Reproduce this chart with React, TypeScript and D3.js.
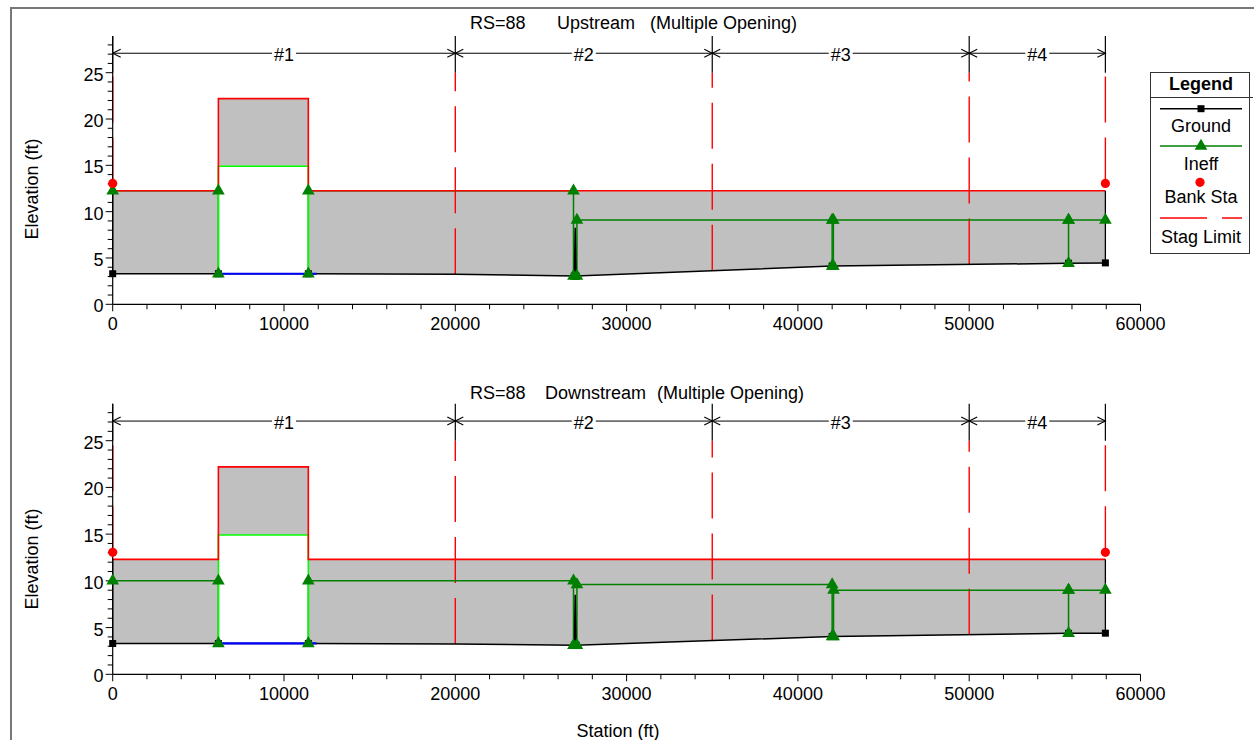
import React from 'react';
import * as d3 from 'd3';

type Pt = [number, number];

const FONT = "'Liberation Sans', Arial, Helvetica, sans-serif";

const xTicks = [0, 10000, 20000, 30000, 40000, 50000, 60000];
const yTicks = [0, 5, 10, 15, 20, 25];
const segmentBounds = [0, 20000, 35000, 50000, 57950];
const segmentLabels = ['#1', '#2', '#3', '#4'];
const bankStations = [0, 57950];
const bankElevation = 13.05;
const stagLimitStations = [0, 20000, 35000, 50000, 57950];
const stagLimitTop = 25;
const bridgeLeft = 6170;
const bridgeRight = 11420;
const lowChord = 14.9;
const deckTop = 22.2;
const blueStations = [6170, 11900];
const groundMarked = [0, 6170, 11420, 26950, 27050, 42000, 55800, 57950];

const upGround: Pt[] = [
  [0, 3.3], [6170, 3.3], [11420, 3.3], [20000, 3.25], [26950, 3.05],
  [27000, 8.25], [27050, 3.05], [42000, 4.13], [55800, 4.43], [57950, 4.47],
];
const downGround: Pt[] = [
  [0, 3.3], [6170, 3.3], [11420, 3.3], [20000, 3.25], [26950, 3.1],
  [27000, 8.5], [27050, 3.1], [42000, 4.05], [55800, 4.38], [57950, 4.4],
];
const upRoad = 12.25;
const downRoad = 12.3;

const upIneff: Pt[][] = [
  [[0, 12.25], [6170, 12.25], [6170, 3.3]],
  [[11420, 3.3], [11420, 12.25], [26900, 12.25], [26900, 3.05]],
  [[27100, 3.05], [27100, 9.1], [42000, 9.1], [42000, 4.13]],
  [[42070, 4.13], [42070, 9.1], [55800, 9.1], [55800, 4.43]],
  [[55800, 9.1], [57950, 9.1]],
];
const downIneff: Pt[][] = [
  [[0, 10.0], [6170, 10.0], [6170, 3.3]],
  [[11420, 3.3], [11420, 10.0], [26900, 10.0], [26900, 3.1]],
  [[27100, 3.1], [27100, 9.6], [42000, 9.6], [42000, 4.05]],
  [[42080, 4.05], [42080, 9.0], [55800, 9.0], [55800, 4.38]],
  [[55800, 9.0], [57950, 9.0]],
];

const triPath = d3.symbol(d3.symbolTriangle, 70)() as string;

interface PanelProps {
  y0px: number;
  y25px: number;
  title: { t: string; x: number }[];
  titleY: number;
  ground: Pt[];
  road: number;
  ineff: Pt[][];
  labelY: number;
  showXTitle: boolean;
}

function Panel({ y0px, y25px, title, titleY, ground, road, ineff, labelY, showXTitle }: PanelProps) {
  const x = d3.scaleLinear().domain([0, 60000]).range([112.7, 1140.5]);
  const y = d3.scaleLinear().domain([0, 25]).range([y0px, y25px]);
  const line = d3.line<Pt>().x((d) => x(d[0])).y((d) => y(d[1]));
  const closed = d3.line<Pt>().x((d) => x(d[0])).y((d) => y(d[1])).curve(d3.curveLinearClosed);
  const gAt = (s: number) => {
    for (let i = 0; i < ground.length - 1; i++) {
      const [a, ea] = ground[i];
      const [b, eb] = ground[i + 1];
      if (s >= a && s <= b) return b === a ? ea : ea + ((eb - ea) * (s - a)) / (b - a);
    }
    return ground[ground.length - 1][1];
  };
  const endS = ground[ground.length - 1][0];
  const fillPoly = (a: number, b: number, top: number): Pt[] => [
    [a, top],
    [b, top],
    [b, gAt(b)],
    ...ground.filter((p) => p[0] > a && p[0] < b).slice().reverse(),
    [a, gAt(a)],
  ];
  const axisTop = 28.95;
  const arrowElev = 27.1;
  const ay = y(arrowElev);
  const minorX = x.ticks(30);
  const minorY = d3.range(0, 29, 1);

  const triangles: Pt[] = [];
  ineff.forEach((seg) => seg.forEach((p) => triangles.push(p)));

  return (
    <g>
      {/* gray fill */}
      <path d={closed(fillPoly(0, bridgeLeft, road)) || ''} fill="#c0c0c0" stroke="none" />
      <path
        d={
          closed([
            [bridgeLeft, lowChord],
            [bridgeRight, lowChord],
            [bridgeRight, deckTop],
            [bridgeLeft, deckTop],
          ]) || ''
        }
        fill="#c0c0c0"
        stroke="none"
      />
      <path d={closed(fillPoly(bridgeRight, endS, road)) || ''} fill="#c0c0c0" stroke="none" />
      {/* stagnation limits */}
      {stagLimitStations.map((s) => {
        const base = bankStations.includes(s) ? bankElevation : gAt(s);
        return (
          <line
            key={'st' + s}
            x1={x(s)}
            x2={x(s)}
            y1={y(base)}
            y2={y(stagLimitTop)}
            stroke="#ff0000"
            strokeWidth={1.4}
            strokeDasharray="46 15"
          />
        );
      })}
      {/* ineffective flow lines */}
      {ineff.map((seg, i) => (
        <path key={'in' + i} d={line(seg) || ''} fill="none" stroke="#008000" strokeWidth={1.5} />
      ))}
      {/* low chord / opening */}
      <path
        d={
          line([
            [bridgeLeft, gAt(bridgeLeft)],
            [bridgeLeft, lowChord],
            [bridgeRight, lowChord],
            [bridgeRight, gAt(bridgeRight)],
          ]) || ''
        }
        fill="none"
        stroke="#00ff00"
        strokeWidth={1.6}
      />
      {/* road / deck outline */}
      <path
        d={
          line([
            [0, road],
            [bridgeLeft, road],
            [bridgeLeft, deckTop],
            [bridgeRight, deckTop],
            [bridgeRight, road],
            [endS, road],
          ]) || ''
        }
        fill="none"
        stroke="#ff0000"
        strokeWidth={1.6}
      />
      {/* ground */}
      <path d={line(ground) || ''} fill="none" stroke="#000" strokeWidth={1.5} />
      <line x1={x(endS)} x2={x(endS)} y1={y(gAt(endS))} y2={y(road)} stroke="#000" strokeWidth={1.3} />
      <line x1={x(0)} x2={x(0)} y1={y(gAt(0))} y2={y(road)} stroke="#000" strokeWidth={1.3} />
      {/* blue */}
      <line
        x1={x(blueStations[0])}
        x2={x(blueStations[1])}
        y1={y(gAt(blueStations[0]))}
        y2={y(gAt(blueStations[0]))}
        stroke="#0000ff"
        strokeWidth={2.2}
      />
      {/* axes */}
      <line x1={x(0)} x2={x(0)} y1={y(0)} y2={y(axisTop)} stroke="#000" strokeWidth={1.2} />
      <line x1={x(0)} x2={x(60000)} y1={y(0)} y2={y(0)} stroke="#000" strokeWidth={1.2} />
      {minorX.map((t) => (
        <line key={'mx' + t} x1={x(t)} x2={x(t)} y1={y(0)} y2={y(0) + (xTicks.includes(t) ? 7 : 5)} stroke="#000" strokeWidth={1} />
      ))}
      {minorY.map((t) => (
        <line key={'my' + t} x1={x(0) - (yTicks.includes(t) ? 7 : 5)} x2={x(0)} y1={y(t)} y2={y(t)} stroke="#000" strokeWidth={1} />
      ))}
      {xTicks.map((t) => (
        <text key={'xl' + t} x={x(t)} y={y(0) + 25.5} textAnchor="middle" fontFamily={FONT} fontSize={18} fill="#000">
          {t}
        </text>
      ))}
      {yTicks.map((t) => (
        <text key={'yl' + t} x={103.5} y={y(t) + 8} textAnchor="end" fontFamily={FONT} fontSize={18} fill="#000">
          {t}
        </text>
      ))}
      <text
        transform={`translate(37.5, ${labelY}) rotate(-90)`}
        textAnchor="middle"
        fontFamily={FONT}
        fontSize={18}
        fill="#000"
      >
        Elevation (ft)
      </text>
      {showXTitle && (
        <text x={618} y={737} textAnchor="middle" fontFamily={FONT} fontSize={18} fill="#000">
          Station (ft)
        </text>
      )}
      {/* title */}
      <text y={titleY} fontFamily={FONT} fontSize={18} fill="#000">
        {title.map((p, i) => (
          <tspan key={i} x={p.x}>
            {p.t}
          </tspan>
        ))}
      </text>
      {/* segment dimension markers */}
      {segmentBounds.map((s) => (
        <line key={'sb' + s} x1={x(s)} x2={x(s)} y1={y(axisTop)} y2={y(stagLimitTop)} stroke="#000" strokeWidth={1.2} />
      ))}
      <line x1={x(segmentBounds[0])} x2={x(segmentBounds[segmentBounds.length - 1])} y1={ay} y2={ay} stroke="#000" strokeWidth={1} />
      {segmentLabels.map((lab, i) => {
        const a = x(segmentBounds[i]);
        const b = x(segmentBounds[i + 1]);
        const c = (a + b) / 2;
        return (
          <g key={'sg' + i}>
            <path d={`M${a + 8},${ay - 4}L${a},${ay}L${a + 8},${ay + 4}`} fill="none" stroke="#000" strokeWidth={1.1} />
            <path d={`M${b - 8},${ay - 4}L${b},${ay}L${b - 8},${ay + 4}`} fill="none" stroke="#000" strokeWidth={1.1} />
            <rect x={c - 12} y={ay - 6} width={24} height={13} fill="#fff" />
            <text x={c} y={ay + 8} textAnchor="middle" fontFamily={FONT} fontSize={18} fill="#000">
              {lab}
            </text>
          </g>
        );
      })}
      {/* markers */}
      {ground
        .filter((p) => groundMarked.includes(p[0]))
        .map((p) => (
          <rect key={'gm' + p[0]} x={x(p[0]) - 3.5} y={y(p[1]) - 3.5} width={7} height={7} fill="#000" />
        ))}
      {triangles.map((p, i) => (
        <path key={'tr' + i} d={triPath} transform={`translate(${x(p[0])},${y(p[1])})`} fill="#008000" />
      ))}
      {bankStations.map((s) => (
        <circle key={'bk' + s} cx={x(s)} cy={y(bankElevation)} r={4.6} fill="#ff0000" />
      ))}
    </g>
  );
}

function Legend() {
  const cx = 1201;
  return (
    <g fontFamily={FONT} fontSize={18} fill="#000">
      <rect x={1150.5} y={72.5} width={99} height={181} fill="#fff" stroke="#333" strokeWidth={1} />
      <line x1={1150.5} x2={1253} y1={97.5} y2={97.5} stroke="#333" strokeWidth={1} />
      <text x={cx} y={89.5} textAnchor="middle" fontWeight="bold">
        Legend
      </text>
      <line x1={1160} x2={1242} y1={108.7} y2={108.7} stroke="#000" strokeWidth={1.5} />
      <rect x={cx - 3.5} y={105.2} width={7} height={7} fill="#000" />
      <text x={cx} y={131.5} textAnchor="middle">
        Ground
      </text>
      <line x1={1160} x2={1242} y1={146} y2={146} stroke="#008000" strokeWidth={1.5} />
      <path d={triPath} transform={`translate(${cx},146)`} fill="#008000" />
      <text x={cx} y={170} textAnchor="middle">
        Ineff
      </text>
      <circle cx={1200} cy={182.3} r={4.6} fill="#ff0000" />
      <text x={cx} y={203.3} textAnchor="middle">
        Bank Sta
      </text>
      <line x1={1160} x2={1242} y1={218} y2={218} stroke="#ff0000" strokeWidth={1.3} strokeDasharray="47 15" />
      <text x={cx} y={242.7} textAnchor="middle">
        Stag Limit
      </text>
    </g>
  );
}

export default function App() {
  return (
    <svg
      width={1254}
      height={740}
      style={{ position: 'absolute', left: 0, top: 0, display: 'block', background: '#fff' }}
    >
      <rect x={0} y={0} width={1254} height={740} fill="#fff" />
      <rect x={11} y={8} width={1270} height={760} fill="none" stroke="#777" strokeWidth={2} />
      <Panel
        y0px={304.3}
        y25px={72.7}
        title={[
          { t: 'RS=88', x: 470 },
          { t: 'Upstream', x: 557 },
          { t: '(Multiple Opening)', x: 650 },
        ]}
        titleY={29}
        ground={upGround}
        road={upRoad}
        ineff={upIneff}
        labelY={189}
        showXTitle={false}
      />
      <Panel
        y0px={674.3}
        y25px={440.7}
        title={[
          { t: 'RS=88', x: 470 },
          { t: 'Downstream', x: 545 },
          { t: '(Multiple Opening)', x: 657 },
        ]}
        titleY={399}
        ground={downGround}
        road={downRoad}
        ineff={downIneff}
        labelY={559}
        showXTitle={true}
      />
      <Legend />
    </svg>
  );
}
